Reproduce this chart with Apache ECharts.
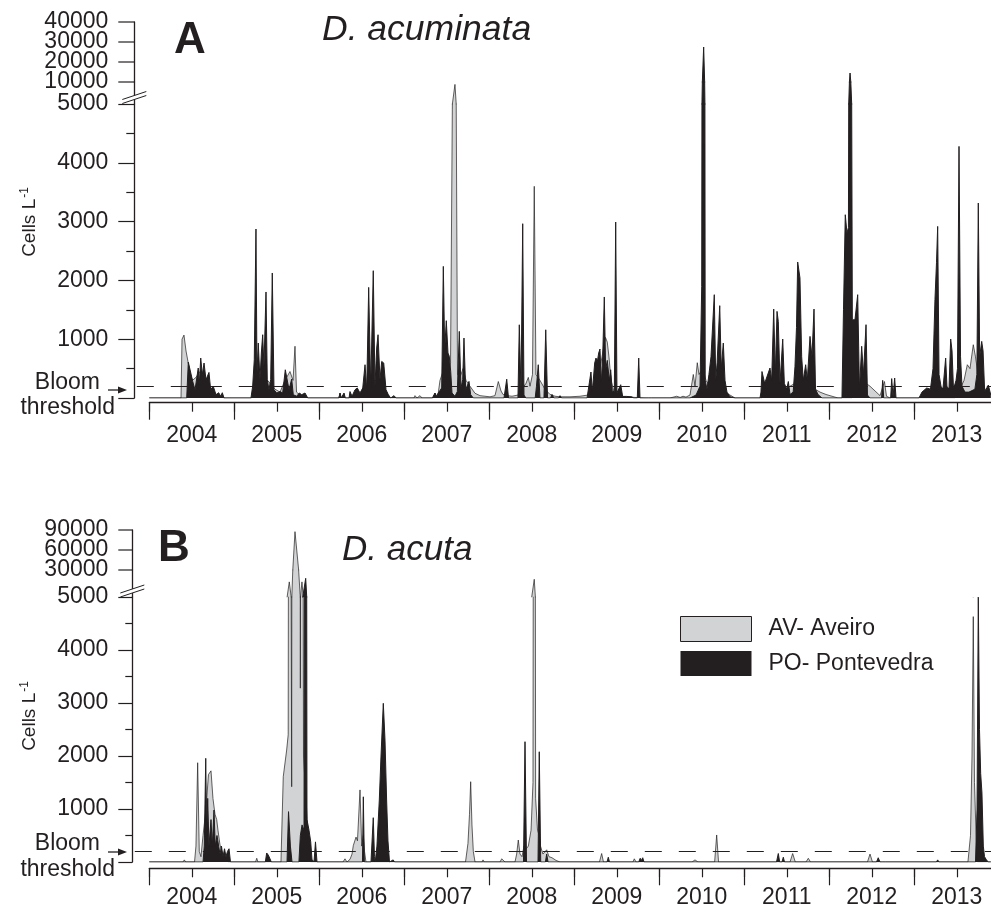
<!DOCTYPE html>
<html>
<head>
<meta charset="utf-8">
<script src="https://cdn.jsdelivr.net/npm/echarts@6/dist/echarts.min.js"></script>
<style>
  html, body { margin: 0; padding: 0; background: #ffffff; }
  #chart { width: 991px; height: 912px; }
</style>
</head>
<body>
<div id="chart"></div>
<script>
// ---- Data: [decimal year, cells per litre] ----
const acuminataAveiro = [[2004.000,0],[2004.373,0],[2004.385,1000],[2004.408,1070],[2004.432,800],[2004.455,620],[2004.479,420],[2004.508,300],[2004.549,350],[2004.596,450],[2004.644,400],[2004.691,250],[2004.738,150],[2004.785,60],[2004.832,20],[2004.879,0],
[2005.208,0],[2005.244,300],[2005.302,400],[2005.361,350],[2005.420,250],[2005.479,150],[2005.538,100],[2005.596,300],[2005.655,450],[2005.691,300],[2005.714,880],[2005.732,100],[2005.773,50],[2005.832,30],[2005.867,0],
[2006.230,0],[2006.244,80],[2006.258,0],[2006.280,0],[2006.291,60],[2006.305,0],[2006.479,0],[2006.538,150],[2006.596,250],[2006.655,300],[2006.714,250],[2006.773,150],[2006.832,0],
[2007.114,0],[2007.126,40],[2007.149,0],[2007.172,0],[2007.185,40],[2007.208,0],[2007.339,0],[2007.361,80],[2007.379,30],[2007.400,90],[2007.420,300],[2007.467,500],[2007.514,400],[2007.544,600],[2007.565,4900],[2007.596,9450],[2007.626,400],[2007.655,350],[2007.691,500],[2007.726,300],[2007.773,200],[2007.832,80],[2007.891,40],[2007.949,30],
[2008.008,20],[2008.067,40],[2008.106,280],[2008.138,120],[2008.161,60],[2008.208,40],[2008.267,30],[2008.338,50],[2008.385,150],[2008.432,250],[2008.459,350],[2008.479,200],[2008.508,400],[2008.529,3600],[2008.549,400],[2008.596,300],[2008.655,150],[2008.714,60],[2008.773,30],[2008.832,20],[2008.949,20],
[2009.067,30],[2009.161,50],[2009.208,150],[2009.255,300],[2009.302,500],[2009.338,800],[2009.367,1030],[2009.388,950],[2009.408,700],[2009.432,300],[2009.467,100],[2009.514,30],[2009.596,20],[2009.714,10],[2009.832,0],
[2010.126,0],[2010.205,30],[2010.245,10],[2010.279,30],[2010.314,15],[2010.361,50],[2010.400,400],[2010.420,200],[2010.447,600],[2010.467,400],[2010.514,500],[2010.549,300],[2010.596,200],[2010.655,150],[2010.714,200],[2010.773,100],[2010.832,50],[2010.891,0],
[2011.208,0],[2011.255,150],[2011.302,250],[2011.361,300],[2011.420,200],[2011.479,150],[2011.538,200],[2011.596,250],[2011.655,200],[2011.714,300],[2011.773,250],[2011.832,150],[2011.891,100],[2011.961,60],
[2012.032,30],[2012.102,0],[2012.267,0],[2012.338,200],[2012.385,300],[2012.432,250],[2012.479,200],[2012.538,120],[2012.597,40],[2012.649,280],[2012.673,30],[2012.714,0],
[2013.479,0],[2013.538,150],[2013.585,300],[2013.624,566],[2013.655,500],[2013.694,906],[2013.720,700],[2013.749,400],[2013.785,350],[2013.832,150],[2013.867,100],[2013.900,60]];

const acuminataPontevedra = [[2004.000,0],[2004.440,0],[2004.459,610],[2004.479,600],[2004.511,280],[2004.538,140],[2004.576,510],[2004.588,226],[2004.605,680],[2004.624,396],[2004.644,595],[2004.667,311],[2004.702,435],[2004.722,140],[2004.753,197],[2004.785,56],[2004.816,90],[2004.840,30],[2004.859,90],[2004.879,0],
[2005.196,0],[2005.216,200],[2005.235,650],[2005.255,2874],[2005.267,425],[2005.282,935],[2005.302,311],[2005.318,765],[2005.334,1076],[2005.349,537],[2005.373,1803],[2005.388,311],[2005.408,140],[2005.428,311],[2005.447,2126],[2005.467,140],[2005.499,85],[2005.538,110],[2005.569,85],[2005.600,480],[2005.616,510],[2005.644,140],[2005.675,322],[2005.694,56],[2005.734,30],[2005.765,85],[2005.793,56],[2005.832,85],[2005.864,0],
[2006.230,0],[2006.244,85],[2006.258,0],[2006.280,0],[2006.291,85],[2006.305,0],[2006.350,0],[2006.361,110],[2006.385,30],[2006.420,140],[2006.447,170],[2006.479,85],[2006.511,170],[2006.538,566],[2006.558,140],[2006.581,1881],[2006.605,170],[2006.635,2165],[2006.655,200],[2006.675,850],[2006.691,1076],[2006.714,311],[2006.734,622],[2006.758,595],[2006.785,140],[2006.812,56],[2006.840,0],[2006.879,40],[2006.902,0],
[2007.330,0],[2007.361,85],[2007.380,20],[2007.400,85],[2007.440,170],[2007.459,2238],[2007.475,821],[2007.494,1315],[2007.514,765],[2007.529,710],[2007.546,452],[2007.561,85],[2007.596,30],[2007.624,110],[2007.647,1133],[2007.667,170],[2007.687,311],[2007.702,1020],[2007.722,140],[2007.741,170],[2007.761,282],[2007.781,56],[2007.812,0],
[2008.173,0],[2008.205,320],[2008.226,0],[2008.337,0],[2008.353,1245],[2008.373,100],[2008.393,2964],[2008.408,50],[2008.430,0],[2008.540,0],[2008.555,200],[2008.576,566],[2008.596,0],[2008.643,0],[2008.664,1160],[2008.685,0],[2008.720,0],[2008.738,60],[2008.760,0],[2008.815,0],[2008.832,40],[2008.850,0],
[2009.150,0],[2009.196,442],[2009.212,110],[2009.240,595],[2009.255,680],[2009.271,620],[2009.287,765],[2009.302,833],[2009.318,255],[2009.334,700],[2009.353,1718],[2009.369,481],[2009.388,640],[2009.412,300],[2009.428,480],[2009.447,110],[2009.471,110],[2009.487,2993],[2009.502,90],[2009.522,110],[2009.546,226],[2009.569,27],[2009.616,27],[2009.675,20],[2009.700,0],[2009.741,0],[2009.758,680],[2009.773,0],[2009.870,0],[2009.891,20],[2009.910,0],
[2010.361,0],[2010.432,50],[2010.479,200],[2010.499,1900],[2010.522,27500],[2010.540,300],[2010.561,150],[2010.584,400],[2010.608,700],[2010.647,1757],[2010.664,300],[2010.680,600],[2010.711,1570],[2010.729,500],[2010.753,935],[2010.773,300],[2010.796,100],[2010.832,20],[2010.891,0],
[2011.185,0],[2011.196,100],[2011.208,450],[2011.240,250],[2011.302,510],[2011.322,300],[2011.346,1513],[2011.365,400],[2011.385,1473],[2011.400,1300],[2011.420,250],[2011.452,1003],[2011.471,250],[2011.499,150],[2011.518,280],[2011.538,60],[2011.575,100],[2011.596,530],[2011.614,1200],[2011.628,2313],[2011.655,2040],[2011.675,700],[2011.694,300],[2011.722,566],[2011.741,300],[2011.773,1048],[2011.796,700],[2011.820,1513],[2011.838,150],[2011.867,60],[2011.914,0],
[2012.149,0],[2012.167,1500],[2012.188,3117],[2012.208,2806],[2012.225,2900],[2012.244,14500],[2012.271,1330],[2012.302,1330],[2012.334,1757],[2012.355,150],[2012.381,880],[2012.402,400],[2012.432,1247],[2012.449,50],[2012.479,0],[2012.615,0],[2012.628,300],[2012.640,0],[2012.722,0],[2012.734,330],[2012.750,20],[2012.769,340],[2012.785,0],
[2013.055,0],[2013.090,100],[2013.146,170],[2013.190,150],[2013.220,500],[2013.243,1672],[2013.261,2300],[2013.275,2918],[2013.291,400],[2013.314,200],[2013.337,150],[2013.369,680],[2013.384,200],[2013.408,150],[2013.428,1003],[2013.444,800],[2013.461,150],[2013.491,300],[2013.508,500],[2013.526,4279],[2013.544,700],[2013.561,200],[2013.596,100],[2013.643,100],[2013.713,150],[2013.736,400],[2013.753,3316],[2013.769,700],[2013.793,963],[2013.809,800],[2013.828,100],[2013.845,150],[2013.871,220],[2013.900,50]];

const acutaAveiro = [[2004.000,0],[2004.396,0],[2004.412,40],[2004.428,0],[2004.532,0],[2004.549,300],[2004.569,1873],[2004.588,200],[2004.608,100],[2004.632,500],[2004.667,1000],[2004.696,1650],[2004.726,1720],[2004.749,1200],[2004.773,900],[2004.793,800],[2004.808,600],[2004.832,320],[2004.862,150],[2004.891,50],[2004.926,0],
[2005.250,0],[2005.264,70],[2005.278,0],[2005.549,0],[2005.576,1610],[2005.616,2113],[2005.634,2400],[2005.647,19000],[2005.675,1420],[2005.714,87500],[2005.777,3280],[2005.796,19000],[2005.814,2000],[2005.844,1200],[2005.867,500],[2005.896,0],
[2006.279,0],[2006.302,60],[2006.325,0],[2006.361,50],[2006.385,150],[2006.400,310],[2006.432,470],[2006.449,400],[2006.479,1360],[2006.499,300],[2006.518,500],[2006.532,200],[2006.549,0],
[2007.720,0],[2007.749,350],[2007.767,900],[2007.781,1515],[2007.796,700],[2007.812,200],[2007.832,0],[2007.915,0],[2007.926,40],[2007.940,0],
[2008.126,0],[2008.146,60],[2008.167,30],[2008.185,0],[2008.302,0],[2008.322,150],[2008.341,415],[2008.361,150],[2008.385,100],[2008.408,300],[2008.435,250],[2008.459,300],[2008.491,600],[2008.514,1500],[2008.529,21400],[2008.545,1200],[2008.567,600],[2008.588,500],[2008.602,300],[2008.631,150],[2008.675,230],[2008.702,100],[2008.738,80],[2008.785,30],[2008.832,0],
[2009.296,0],[2009.322,160],[2009.343,0],[2009.690,0],[2009.706,60],[2009.726,0],[2010.385,0],[2010.420,40],[2010.455,0],[2010.651,0],[2010.675,510],[2010.697,0],[2011.538,0],[2011.569,160],[2011.600,0],[2011.726,0],[2011.753,70],[2011.779,0],[2012.449,0],[2012.479,150],[2012.508,0],
[2013.631,0],[2013.661,500],[2013.679,2000],[2013.694,4630],[2013.708,1500],[2013.725,600],[2013.744,0],[2013.900,0]];

const acutaPontevedra = [[2004.000,0],[2004.632,0],[2004.647,300],[2004.664,1956],[2004.675,500],[2004.687,1200],[2004.702,300],[2004.726,800],[2004.741,300],[2004.761,980],[2004.776,300],[2004.796,500],[2004.816,300],[2004.832,150],[2004.849,300],[2004.867,100],[2004.885,250],[2004.902,100],[2004.920,200],[2004.938,250],[2004.955,0],
[2005.365,0],[2005.381,170],[2005.400,130],[2005.420,60],[2005.435,0],[2005.620,0],[2005.638,950],[2005.660,300],[2005.679,0],[2005.760,0],[2005.777,500],[2005.797,700],[2005.820,600],[2005.840,22300],[2005.855,800],[2005.879,600],[2005.899,380],[2005.914,50],[2005.938,0],[2005.955,380],[2005.973,0],
[2006.508,0],[2006.518,1230],[2006.530,0],[2006.608,0],[2006.635,836],[2006.649,100],[2006.658,0],[2006.678,300],[2006.706,1170],[2006.726,2000],[2006.753,2994],[2006.773,2300],[2006.792,1170],[2006.808,400],[2006.826,0],[2006.869,40],[2006.885,0],
[2008.402,0],[2008.420,2270],[2008.438,0],[2008.573,0],[2008.588,2080],[2008.605,0],[2008.660,0],[2008.675,150],[2008.691,0],
[2009.385,0],[2009.400,90],[2009.414,0],[2009.758,0],[2009.775,70],[2009.790,30],[2009.805,80],[2009.820,0],[2011.379,0],[2011.400,160],[2011.416,0],[2011.443,0],[2011.459,90],[2011.473,0],[2012.555,0],[2012.576,80],[2012.596,0],[2012.630,0],[2012.644,30],[2012.660,0],[2013.260,0],[2013.275,40],[2013.290,0],
[2013.720,0],[2013.738,1000],[2013.753,4990],[2013.767,2500],[2013.781,1670],[2013.796,1300],[2013.812,300],[2013.826,100],[2013.845,50],[2013.868,0],[2013.900,0]];

// Axis segments of the broken y axes: [lower min, break, upper start, upper max]
const acuminataLevels = [0, 5000, 10000, 40000];
const acutaLevels = [0, 5000, 30000, 90000];
// Tick values above the break
const acuminataUpperTicks = [10000, 20000, 30000, 40000];
const acutaUpperTicks = [30000, 60000, 90000];
const lowerStep = 1000;
const bloomThreshold = 200;
const yearLabels = ['2004','2005','2006','2007','2008','2009','2010','2011','2012','2013'];
const seriesNames = ['AV- Aveiro', 'PO- Pontevedra'];

// ---- Styling ----
const FONT = '"Liberation Sans", Arial, Helvetica, sans-serif';
const INK = '#231f20';
const AV_FILL = '#d1d3d4';
const X_MIN = 2004, X_MAX = 2013.93;
const GRID_LEFT = 149.3, YEAR_PX = 85;
const GRID_W = (X_MAX - X_MIN) * YEAR_PX;

// Band edges are whole pixels so neighbouring bands meet cleanly.
const panels = [
  { aveiro: acuminataAveiro, pontevedra: acuminataPontevedra, levels: acuminataLevels, upperTicks: acuminataUpperTicks,
    box: { top: 22, mid: 82, brk: 104, bottom: 398 }, axisX: 134.3, yTick: 16, yMinor: 8, yLabelGap: 26,
    xGap: 4.7, xLabelGap: 21 },
  { aveiro: acutaAveiro, pontevedra: acutaPontevedra, levels: acutaLevels, upperTicks: acutaUpperTicks,
    box: { top: 530, mid: 570, brk: 597, bottom: 862 }, axisX: 132.3, yTick: 14, yMinor: 7, yLabelGap: 24,
    xGap: 6.3, xLabelGap: 18 }
];

function yearFormatter(v) {
  const whole = Math.floor(v + 1e-9);
  if (Math.abs(v - whole - 0.5) < 1e-6) return yearLabels[whole - 2004] || '';
  return '';
}

const grid = [], xAxis = [], yAxis = [], series = [];
const tickStyle = { color: INK, width: 1.2 };

panels.forEach(p => {
  const b = p.box;
  const bands = [
    { kind: 'lower', top: b.brk, height: b.bottom - b.brk, min: p.levels[0], max: p.levels[1] },
    { kind: 'middle', top: b.mid, height: b.brk - b.mid, min: p.levels[1], max: p.levels[2] },
    { kind: 'upper', top: b.top, height: b.mid - b.top, min: p.levels[2], max: p.levels[3] }
  ];
  bands.forEach(band => {
    const isLower = band.kind === 'lower';
    const gi = grid.length;
    grid.push({ left: GRID_LEFT, top: band.top, width: GRID_W, height: band.height,
                containLabel: false, outerBoundsMode: 'none' });

    const xi = xAxis.length;
    if (isLower) {
      xAxis.push({
        gridIndex: gi, type: 'value', min: X_MIN, max: X_MAX, interval: 0.5,
        position: 'bottom', offset: p.xGap,
        axisLine: { show: true, onZero: false, lineStyle: { color: INK, width: 1.3 } },
        axisTick: { show: true, length: 9, lineStyle: tickStyle },
        axisLabel: { show: true, margin: p.xLabelGap, fontSize: 23, fontFamily: FONT, color: INK,
                     formatter: yearFormatter },
        splitLine: { show: false }
      });
      // year boundaries: long ticks
      xAxis.push({
        gridIndex: gi, type: 'value', min: X_MIN, max: X_MAX, interval: 1,
        position: 'bottom', offset: p.xGap,
        axisLine: { show: false, onZero: false },
        axisTick: { show: true, length: 17, lineStyle: tickStyle },
        axisLabel: { show: false }, splitLine: { show: false }
      });
    } else {
      xAxis.push({ gridIndex: gi, type: 'value', min: X_MIN, max: X_MAX, show: false, splitLine: { show: false } });
    }

    const yi = yAxis.length;
    const yBase = {
      gridIndex: gi, type: 'value', min: band.min, max: band.max, position: 'left',
      offset: GRID_LEFT - p.axisX,
      axisLine: { show: true, onZero: false, lineStyle: { color: INK, width: 1.3 } },
      splitLine: { show: false }
    };
    if (isLower) {
      yAxis.push(Object.assign(yBase, {
        interval: lowerStep,
        axisTick: { show: true, length: p.yTick, lineStyle: tickStyle },
        minorTick: { show: true, splitNumber: 2, length: p.yMinor, lineStyle: tickStyle },
        minorSplitLine: { show: false },
        axisLabel: { margin: p.yLabelGap, fontSize: 23, fontFamily: FONT, color: INK,
                     formatter: v => (v === 0 ? '' : String(v)) }
      }));
    } else {
      // The short compressed bands get their tick marks and labels placed
      // from this axis' own scale further below.
      yAxis.push(Object.assign(yBase, {
        axisTick: { show: false }, axisLabel: { show: false }
      }));
      if (band.kind === 'upper') p.upperAxisIndex = yi;
    }

    const common = { type: 'line', xAxisIndex: xi, yAxisIndex: yi, symbol: 'none', showSymbol: false,
                     clip: true, silent: true, animation: false, emphasis: { disabled: true } };
    // Filled areas. In the compressed bands the outline is drawn by a separate
    // line-only series so the fill is clipped exactly at the band floor.
    series.push(Object.assign({}, common, {
      name: seriesNames[0], data: p.aveiro, z: 2,
      lineStyle: { color: INK, width: isLower ? 0.7 : 0.01 },
      itemStyle: { color: AV_FILL },
      areaStyle: { color: AV_FILL, opacity: 1, origin: 'start' }
    }));
    if (!isLower) {
      series.push(Object.assign({}, common, {
        name: seriesNames[0], data: p.aveiro, z: 2,
        lineStyle: { color: INK, width: 0.7 }, itemStyle: { color: AV_FILL }
      }));
    }
    const po = Object.assign({}, common, {
      name: seriesNames[1], data: p.pontevedra, z: 3,
      lineStyle: { color: INK, width: isLower ? 1 : 0.01 },
      itemStyle: { color: INK },
      areaStyle: { color: INK, opacity: 1, origin: 'start' }
    });
    if (isLower) {
      po.markLine = {
        silent: true, symbol: 'none', animation: false,
        label: { show: false },
        lineStyle: { color: INK, width: 1.2, type: [17, 17] },
        data: [[{ x: p.axisX + 2.5, yAxis: bloomThreshold }, { xAxis: X_MAX, yAxis: bloomThreshold }]]
      };
    }
    series.push(po);
    if (!isLower) {
      series.push(Object.assign({}, common, {
        name: seriesNames[1], data: p.pontevedra, z: 3,
        lineStyle: { color: INK, width: 1 }, itemStyle: { color: INK }
      }));
    }
  });
});

// ---- Decorations: panel letters, species names, axis titles, breaks, threshold labels ----
function txt(x, y, text, extra) {
  return { type: 'text', x: x, y: y, z: 50, silent: true,
           style: Object.assign({ text: text, fill: INK, fontFamily: FONT, fontSize: 23,
                                  align: 'left', verticalAlign: 'middle' }, extra || {}) };
}
function breakMark(ax, cy) {
  const dx = 12, s = 1 / 3, h = 2;
  return [
    { type: 'polygon', z: 60, silent: true,
      shape: { points: [[ax - dx, cy + h + dx * s], [ax + dx, cy + h - dx * s], [ax + dx, cy - h - dx * s], [ax - dx, cy - h + dx * s]] },
      style: { fill: '#ffffff' } },
    { type: 'line', z: 61, silent: true, shape: { x1: ax - dx, y1: cy - h + dx * s, x2: ax + dx, y2: cy - h - dx * s },
      style: { stroke: INK, lineWidth: 1 } },
    { type: 'line', z: 61, silent: true, shape: { x1: ax - dx, y1: cy + h + dx * s, x2: ax + dx, y2: cy + h - dx * s },
      style: { stroke: INK, lineWidth: 1 } }
  ];
}
function bloomLabel(cyBloom, cyThreshold, arrowY) {
  return [
    txt(100, cyBloom, 'Bloom', { align: 'right' }),
    txt(115, cyThreshold, 'threshold', { align: 'right' }),
    { type: 'line', z: 50, silent: true, shape: { x1: 108, y1: arrowY, x2: 119, y2: arrowY },
      style: { stroke: INK, lineWidth: 1.3 } },
    { type: 'polygon', z: 50, silent: true,
      shape: { points: [[127, arrowY], [118, arrowY - 3.5], [118, arrowY + 3.5]] }, style: { fill: INK } }
  ];
}
function cellsTitle(cx, cy) {
  return { type: 'text', x: cx, y: cy, rotation: Math.PI / 2, z: 50, silent: true,
           style: { text: '{m|Cells L}{s|-1}', align: 'center', verticalAlign: 'middle', fill: INK,
                    rich: { m: { fontSize: 19, fontFamily: FONT, fill: INK },
                            s: { fontSize: 12, fontFamily: FONT, fill: INK, padding: [0, 0, 10, 1] } } } };
}

const graphic = [].concat(
  [txt(190, 41, 'A', { fontSize: 44, fontWeight: 'bold', align: 'center' }),
   txt(322, 30, 'D. acuminata', { fontSize: 35.5, fontStyle: 'italic' }),
   txt(174, 549, 'B', { fontSize: 44, fontWeight: 'bold', align: 'center' }),
   txt(342, 550, 'D. acuta', { fontSize: 35, fontStyle: 'italic' }),
   cellsTitle(30, 222), cellsTitle(30, 716)],
  breakMark(134.3, 97.5), breakMark(132.3, 591),
  bloomLabel(383, 408, 390), bloomLabel(844, 870, 852)
);

const chart = echarts.init(document.getElementById('chart'), null, { renderer: 'canvas' });
chart.setOption({
  animation: false,
  backgroundColor: '#ffffff',
  grid: grid, xAxis: xAxis, yAxis: yAxis, series: series,
  legend: {
    show: true, orient: 'vertical', left: 680, top: 616, padding: 0,
    itemWidth: 71, itemHeight: 25, itemGap: 9, selectedMode: false,
    textStyle: { fontSize: 23, fontFamily: FONT, color: INK, padding: [4, 0, 0, 12] },
    data: [
      { name: seriesNames[0], icon: 'rect', itemStyle: { color: AV_FILL, borderColor: INK, borderWidth: 1 } },
      { name: seriesNames[1], icon: 'rect', itemStyle: { color: INK, borderColor: INK, borderWidth: 0 } }
    ]
  }
});

// Ticks and labels above the break, positioned through the upper axis' scale.
const upperTickMarks = [];
panels.forEach(p => {
  p.upperTicks.forEach(v => {
    const y = chart.convertToPixel({ yAxisIndex: p.upperAxisIndex }, v);
    upperTickMarks.push({ type: 'line', z: 40, silent: true,
      shape: { x1: p.axisX - p.yTick, y1: y, x2: p.axisX, y2: y }, style: { stroke: INK, lineWidth: 1.2 } });
    upperTickMarks.push(txt(p.axisX - p.yLabelGap, y, String(v), { align: 'right' }));
  });
});
chart.setOption({ graphic: graphic.concat(upperTickMarks) });
</script>
</body>
</html>
